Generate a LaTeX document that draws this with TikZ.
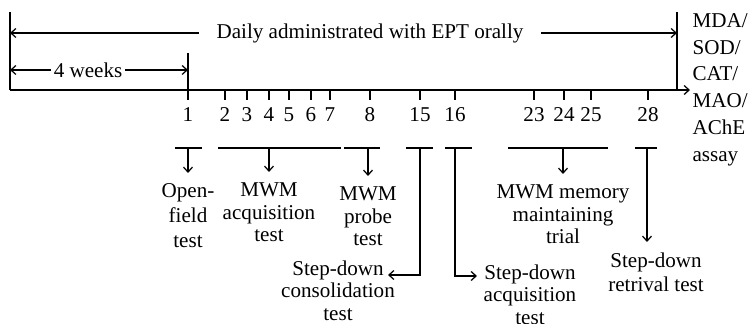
\documentclass[tikz,border=0pt]{standalone}
\usepackage{fontspec}
\setmainfont{Liberation Serif}
\usetikzlibrary{calc,positioning}
\usetikzlibrary{arrows.meta}
\tikzset{>={Straight Barb[width=1.8mm,length=1.0mm]}}

\begin{document}
\begin{tikzpicture}[x=0.02cm,y=-0.02cm,line width=0.7pt]
  \tikzstyle{nnode} = [inner xsep=3pt, inner ysep=5.8pt, anchor=north, align=center, font=\fontsize{12}{12.8}\selectfont]
  \tikzstyle{dnode} = [inner sep=0pt, anchor=base, font=\fontsize{12}{12}\selectfont]
  \useasboundingbox (0,0) rectangle (748,324);

  % time axis
  \coordinate (start) at (10,90);
  \coordinate (starttop) at (10,12);
  \coordinate (stop) at (677,90);
  \coordinate (stoptop) at (677,12);
  \coordinate (axend) at (690,90);
  \draw (starttop) -- (start);
  \draw (stoptop) -- (stop);
  \draw[->] (start) -- (axend);

  \node[dnode, anchor=center, inner xsep=3.4mm] (daily) at (370,33) {Daily administrated with EPT orally};
  \draw[->] (daily.west) -- (starttop |- daily.west);
  \draw[->] (daily.east) -- (stoptop |- daily.east);

  \coordinate (wtop) at (188,53);
  \node[dnode, anchor=center, inner xsep=0.5mm] (weeks) at (88,70) {4 weeks};
  \draw[->] (weeks.west) -- (start |- weeks.west);
  \draw[->] (weeks.east) -- (wtop |- weeks.east);

  \node[anchor=north west, align=left, inner sep=0pt, font=\fontsize{12}{15.2}\selectfont] (assay) at (692,13) {MDA/\\SOD/\\CAT/\\MAO/\\AChE\\assay};

  % days
  \node[dnode] (d1) at (188,122) {1};
  \node[dnode] (d2) at (225,122) {2};
  \node[dnode] (d3) at (247,122) {3};
  \node[dnode] (d4) at (269,122) {4};
  \node[dnode] (d5) at (289,122) {5};
  \node[dnode] (d6) at (311,122) {6};
  \node[dnode] (d7) at (330,122) {7};
  \node[dnode] (d8) at (370,122) {8};
  \node[dnode] (d15) at (420,122) {15};
  \node[dnode] (d16) at (455,122) {16};
  \node[dnode] (d23) at (534,122) {23};
  \node[dnode] (d24) at (564,122) {24};
  \node[dnode] (d25) at (591,122) {25};
  \node[dnode] (d28) at (648,122) {28};

  \draw (wtop) -- (d1 |- start) -- ++(0,10);
  \draw (d2 |- start) -- ++(0,10);
  \draw (d3 |- start) -- ++(0,10);
  \draw (d4 |- start) -- ++(0,10);
  \draw (d5 |- start) -- ++(0,10);
  \draw (d6 |- start) -- ++(0,10);
  \draw (d7 |- start) -- ++(0,10);
  \draw (d8 |- start) -- ++(0,10);
  \draw (d15 |- start) -- ++(0,10);
  \draw (d16 |- start) -- ++(0,10);
  \draw (d23 |- start) -- ++(0,10);
  \draw (d24 |- start) -- ++(0,10);
  \draw (d25 |- start) -- ++(0,10);
  \draw (d28 |- start) -- ++(0,10);

  % tests
  \draw (175,148) -- (202,148);
  \draw (218,148) -- (341,148);
  \draw (344,148) -- (380,148);
  \draw (406,148) -- (433,148);
  \draw (445,148) -- (472,148);
  \draw (508,148) -- (608,148);
  \draw (635,148) -- (657,148);
  \coordinate (b1) at (188,148);
  \coordinate (b2) at (269,148);
  \coordinate (b8) at (368,148);
  \coordinate (b15) at (420,148);
  \coordinate (b16) at (455,148);
  \coordinate (b23) at (563,148);
  \coordinate (b28) at (647,148);

  \node[nnode, font=\fontsize{12}{14.2}\selectfont] (open) at (188,173) {Open-\\field\\test};
  \node[nnode] (mwmacq) at (269,172) {MWM\\acquisition\\test};
  \node[nnode] (probe) at (368,176) {MWM\\probe\\test};
  \node[nnode] (cons) at (338,250) {Step-down\\consolidation\\test};
  \node[nnode] (sdacq) at (530,254) {Step-down\\acquisition\\test};
  \node[nnode] (memory) at (563,174) {MWM memory\\maintaining\\trial};
  \node[nnode, font=\fontsize{12}{13.5}\selectfont] (retr) at (656,242) {Step-down\\retrival test};
  \coordinate (consin) at (388,275);
  \coordinate (sdacqin) at (477,276);

  \draw[->] (b1) -- (open);
  \draw[->] (b2) -- (mwmacq);
  \draw[->] (b8) -- (probe);
  \draw[->] (b23) -- (memory);
  \draw[->] (b15) |- (consin);
  \draw[->] (b16) |- (sdacqin);
  \draw[->] (b28) -- (b28 |- retr.north);

\end{tikzpicture}
\end{document}
